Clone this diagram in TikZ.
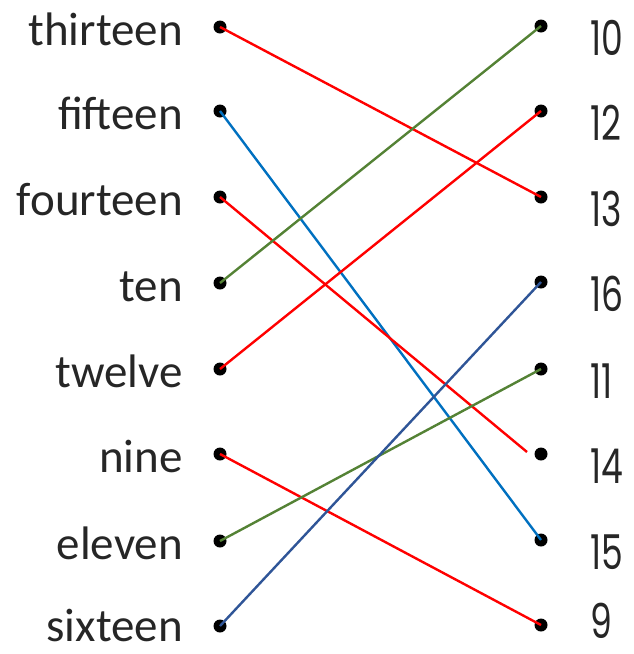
\documentclass[tikz,border=0pt]{standalone}
\usepackage{fontspec}
\setmainfont{Carlito}
\newfontfamily\digitfont{Poppins}
\usepackage{tikz}
\usetikzlibrary{positioning}
\definecolor{lred}{RGB}{255,0,0}
\definecolor{lgreen}{RGB}{84,130,53}
\definecolor{lblue}{RGB}{0,112,192}
\definecolor{ldblue}{RGB}{47,85,151}
\tikzset{
  dot/.style={circle,fill=black,inner sep=0pt,minimum size=13pt},
  word/.style={anchor=base east,inner sep=0pt,font=\fontsize{47}{50}\selectfont,text=black!85},
  num/.style={anchor=base west,inner sep=0pt,xscale=0.72,transform shape,
    font=\digitfont\fontsize{48}{52}\selectfont,text=black!85},
  link/.style={line width=2.4pt}
}
\begin{document}
\begin{tikzpicture}[x=1pt,y=-1pt]
\useasboundingbox (0,0) rectangle (634,654);
% left column
\node[dot] (thirteen) at (220,27) {};
\node[dot] (fifteen) at (220,111) {};
\node[dot] (fourteen) at (220,197) {};
\node[dot] (ten) at (220,283) {};
\node[dot] (twelve) at (220,369) {};
\node[dot] (nine) at (220,454) {};
\node[dot] (eleven) at (220,541) {};
\node[dot] (sixteen) at (220,626) {};
\node[word] (w1) at (183,45) {thirteen};
\node[word] (w2) at (183,129) {fifteen};
\node[word] (w3) at (183,215) {fourteen};
\node[word] (w4) at (183,301) {ten};
\node[word] (w5) at (183,387) {twelve};
\node[word] (w6) at (183,472) {nine};
\node[word] (w7) at (183,559) {eleven};
\node[word] (w8) at (183,641) {sixteen};
% right column
\node[dot] (r10) at (541,26) {};
\node[dot] (r12) at (541,111) {};
\node[dot] (r13) at (541,197) {};
\node[dot] (r16) at (541,282) {};
\node[dot] (r11) at (541,369) {};
\node[dot] (r14) at (541,454) {};
\node[dot] (r15) at (541,540) {};
\node[dot] (r9) at (541,625) {};
\node[num] (n10) at (590,55) {10};
\node[num] (n12) at (590,140) {12};
\node[num] (n13) at (590,226) {13};
\node[num] (n16) at (590,311) {16};
\node[num] (n11) at (590,398) {11};
\node[num] (n14) at (590,483) {14};
\node[num] (n15) at (590,569) {15};
\node[num] (n9) at (590,638) {9};
\coordinate (end14) at (527,452);
% matching lines
\draw[link,lred] (thirteen.center) -- (r13.center);
\draw[link,lblue] (fifteen.center) -- (r15.center);
\draw[link,lred] (fourteen.center) -- (end14);
\draw[link,lgreen] (ten.center) -- (r10.center);
\draw[link,lred] (twelve.center) -- (r12.center);
\draw[link,lred] (nine.center) -- (r9.center);
\draw[link,lgreen] (eleven.center) -- (r11.center);
\draw[link,ldblue] (sixteen.center) -- (r16.center);
\end{tikzpicture}
\end{document}
